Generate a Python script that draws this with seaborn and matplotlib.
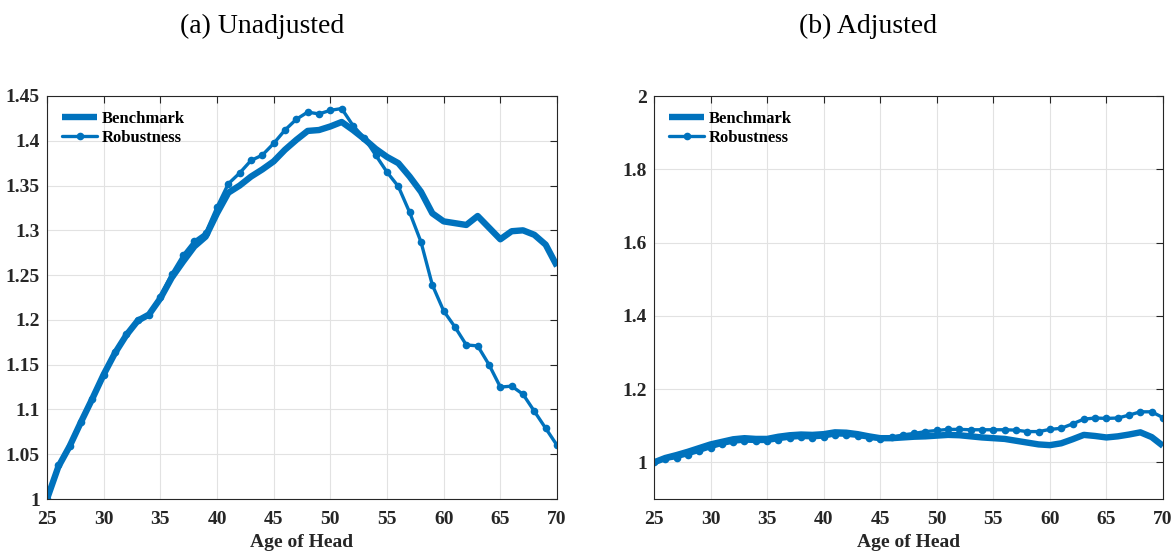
import numpy as np
import pandas as pd
import matplotlib
matplotlib.use("Agg")
import matplotlib.pyplot as plt
import seaborn as sns

ages = list(range(25, 71))

# (a) Unadjusted
unadj_benchmark = [
    1.000, 1.036, 1.059, 1.086, 1.112, 1.139, 1.163, 1.183, 1.199, 1.206,
    1.224, 1.247, 1.265, 1.282, 1.293, 1.319, 1.342, 1.350, 1.360, 1.368,
    1.377, 1.390, 1.401, 1.411, 1.412, 1.416, 1.421, 1.412, 1.402, 1.391,
    1.382, 1.375, 1.360, 1.343, 1.319, 1.310, 1.308, 1.306, 1.316, 1.303,
    1.290, 1.299, 1.300, 1.295, 1.284, 1.260]
unadj_robust = [
    1.000, 1.038, 1.059, 1.086, 1.112, 1.139, 1.164, 1.184, 1.200, 1.206,
    1.226, 1.251, 1.272, 1.288, 1.297, 1.326, 1.352, 1.364, 1.378, 1.384,
    1.397, 1.412, 1.424, 1.432, 1.430, 1.434, 1.436, 1.417, 1.403, 1.384,
    1.365, 1.349, 1.320, 1.287, 1.239, 1.210, 1.192, 1.172, 1.171, 1.150,
    1.125, 1.126, 1.117, 1.098, 1.079, 1.060]

# (b) Adjusted
adj_benchmark = [
    1.000, 1.012, 1.020, 1.029, 1.039, 1.049, 1.056, 1.063, 1.066, 1.064,
    1.064, 1.070, 1.074, 1.076, 1.075, 1.077, 1.082, 1.081, 1.077, 1.071,
    1.066, 1.066, 1.068, 1.070, 1.071, 1.073, 1.075, 1.074, 1.071, 1.068,
    1.066, 1.064, 1.059, 1.054, 1.049, 1.047, 1.052, 1.063, 1.075, 1.072,
    1.068, 1.071, 1.076, 1.082, 1.069, 1.045]
adj_robust = [
    1.000, 1.008, 1.013, 1.021, 1.030, 1.040, 1.049, 1.055, 1.058, 1.057,
    1.057, 1.062, 1.066, 1.068, 1.067, 1.069, 1.075, 1.074, 1.071, 1.066,
    1.063, 1.068, 1.075, 1.079, 1.084, 1.087, 1.090, 1.090, 1.089, 1.089,
    1.089, 1.089, 1.088, 1.084, 1.084, 1.090, 1.093, 1.105, 1.118, 1.121,
    1.120, 1.121, 1.129, 1.138, 1.138, 1.122]

blue = "#0072BD"

sns.set_style("whitegrid")
plt.rcParams["font.family"] = ["Liberation Serif", "DejaVu Serif"]

fig = plt.figure(figsize=(11.73, 5.52), dpi=100)
ax1 = fig.add_axes([47 / 1173, 1 - 499 / 552, 510 / 1173, 403 / 552])
ax2 = fig.add_axes([654 / 1173, 1 - 499 / 552, 509 / 1173, 403 / 552])

panels = [
    (ax1, unadj_benchmark, unadj_robust, (1.0, 1.45), np.arange(1.0, 1.451, 0.05), "(a) Unadjusted", 262),
    (ax2, adj_benchmark, adj_robust, (0.9, 2.0), np.arange(1.0, 2.01, 0.2), "(b) Adjusted", 868),
]

for ax, bench, rob, ylim, yticks, title, tx in panels:
    df = pd.DataFrame({"age": ages, "Benchmark": bench, "Robustness": rob})
    sns.lineplot(data=df, x="age", y="Benchmark", ax=ax, color=blue,
                 linewidth=4.6, label="Benchmark", solid_capstyle="butt")
    sns.lineplot(data=df, x="age", y="Robustness", ax=ax, color=blue,
                 linewidth=2.4, marker="o", markersize=5.5, markeredgewidth=0,
                 label="Robustness")
    ax.set_xlim(25, 70)
    ax.set_ylim(*ylim)
    ax.set_xticks(range(25, 71, 5))
    ax.set_yticks(yticks)
    ax.set_yticklabels([f"{v:g}" for v in np.round(yticks, 2)])
    ax.set_xlabel("Age of Head", fontsize=14, fontweight="bold", labelpad=4,
                  color="#262626")
    ax.set_ylabel("")
    ax.grid(True, color="#e2e2e2", linewidth=0.8)
    ax.tick_params(direction="in", length=5, width=0.8, top=True, right=True,
                   labelsize=14, colors="#262626")
    ax.tick_params(axis="x", pad=9)
    ax.tick_params(axis="y", pad=5)
    for lab in ax.get_xticklabels() + ax.get_yticklabels():
        lab.set_fontweight("bold")
    for sp in ax.spines.values():
        sp.set_color("#262626")
        sp.set_linewidth(0.8)
    leg = ax.legend(loc="upper left", bbox_to_anchor=(0.0, 1.0), frameon=False,
                    handlelength=2.1, handletextpad=0.3, labelspacing=0.2,
                    borderaxespad=0.5, prop={"weight": "bold", "size": 12})
    for t in leg.get_texts():
        t.set_color("black")
    fig.text(tx / 1173, 1 - 26 / 552, title, ha="center", va="center",
             fontsize=20, color="black")

fig.savefig("out.png", dpi=100)
